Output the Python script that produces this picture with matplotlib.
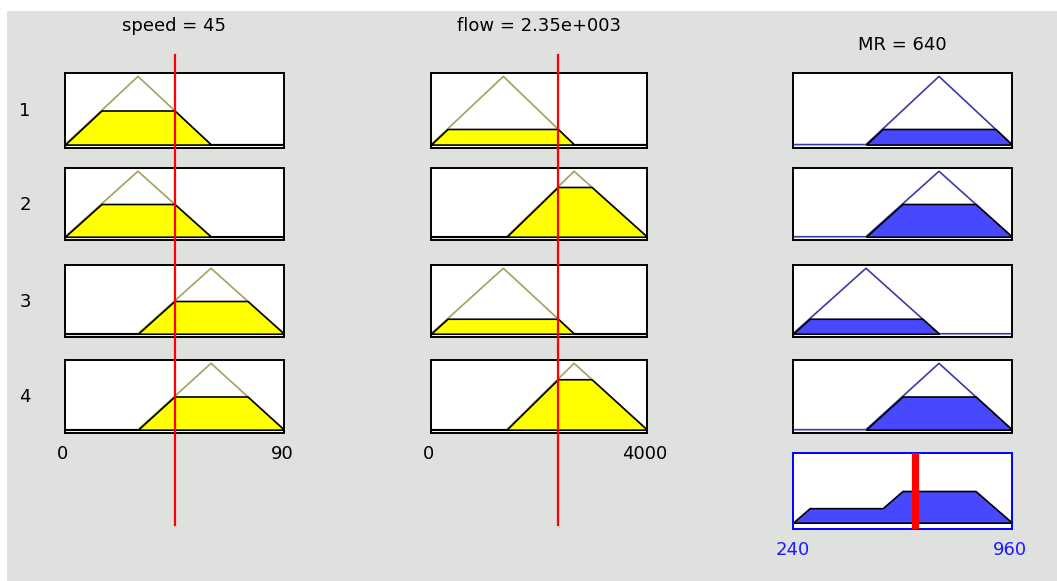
import numpy as np
import matplotlib
matplotlib.use("Agg")
import matplotlib.pyplot as plt
from matplotlib.lines import Line2D
from matplotlib.patches import Rectangle
from matplotlib import transforms

W, H = 1057, 581

# fuzzy system: two inputs, one output, four rules
in_names = ["speed", "flow"]
in_values = [45, 2350]
in_titles = ["speed = 45", "flow = 2.35e+003"]
in_ranges = [(0, 90), (0, 4000)]
in_ticks = [["0", "90"], ["0", "4000"]]
speed_mfs = [[0, 30, 60], [0, 30, 60], [30, 60, 90], [30, 60, 90]]
flow_mfs = [[0, 1340, 2650], [1400, 2650, 4000], [0, 1340, 2650], [1400, 2650, 4000]]
in_mfs = [speed_mfs, flow_mfs]

out_title = "MR = 640"
out_value = 640
out_range = (240, 960)
out_ticks = ["240", "960"]
mr_mfs = [[480, 720, 960], [480, 720, 960], [240, 480, 720], [480, 720, 960]]
rule_labels = ["1", "2", "3", "4"]

# pixel layout
col_x = [(65, 284), (431, 647), (793, 1012)]
row_y = [(73, 148), (168, 240), (265, 337), (360, 433)]
agg_y = (453, 529)

bg = "#dfe1de"
olive = "#a3a15c"
yellow = "#ffff00"
navy = "#3a3aa8"
blue_fill = "#4848ff"


def px_box(x0, x1, y0, y1):
    return [x0 / W, 1 - y1 / H, (x1 - x0) / W, (y1 - y0) / H]


def trimf(x, p):
    a, b, c = p
    return np.interp(x, [a, b, c], [0, 1, 0], left=0, right=0)


def style_axes(ax, color="black"):
    ax.set_facecolor("white")
    ax.set_xticks([])
    ax.set_yticks([])
    for s in ax.spines.values():
        s.set_color(color)
        s.set_linewidth(1.4)


plt.rcParams["font.family"] = ["DejaVu Sans"]
fig = plt.figure(figsize=(W / 100, H / 100), dpi=100, facecolor="white")
fig.patches.append(Rectangle((7 / W, 0), 1, 1 - 11 / H, transform=fig.transFigure,
                             facecolor=bg, edgecolor="none", zorder=-10))

# rule strengths (min of input memberships)
degrees = []
for i in range(2):
    degrees.append([float(trimf(in_values[i], p)) for p in in_mfs[i]])
strengths = [min(degrees[0][r], degrees[1][r]) for r in range(4)]

# inputs
for i in range(2):
    lo, hi = in_ranges[i]
    x = np.linspace(lo, hi, 901)
    top_ax = None
    for r in range(4):
        ax = fig.add_axes(px_box(*col_x[i], *row_y[r]))
        style_axes(ax)
        mu = trimf(x, in_mfs[i][r])
        cut = np.minimum(mu, degrees[i][r])
        ax.plot(x, mu, color=olive, lw=1.2, zorder=2)
        ax.fill_between(x, 0, cut, facecolor=yellow, edgecolor="black", lw=1.2, zorder=3)
        ax.set_xlim(lo, hi)
        ax.set_ylim(-0.05, 1.05)
        if r == 0:
            top_ax = ax
    # red input line through all rows
    tr = transforms.blended_transform_factory(top_ax.transData, fig.transFigure)
    fig.add_artist(Line2D([in_values[i]] * 2, [1 - 55 / H, 1 - 525 / H], transform=tr,
                          color="red", lw=1.6, zorder=5))
    cx = (col_x[i][0] + col_x[i][1]) / 2
    fig.text(cx / W, 1 - 26 / H, in_titles[i], ha="center", va="center", fontsize=13)
    fig.text((col_x[i][0] - 2) / W, 1 - 454 / H, in_ticks[i][0], ha="center", va="center", fontsize=13)
    fig.text((col_x[i][1] - 2) / W, 1 - 454 / H, in_ticks[i][1], ha="center", va="center", fontsize=13)

# outputs
lo, hi = out_range
x = np.linspace(lo, hi, 721)
agg = np.zeros_like(x)
for r in range(4):
    ax = fig.add_axes(px_box(*col_x[2], *row_y[r]))
    style_axes(ax)
    mu = trimf(x, mr_mfs[r])
    cut = np.minimum(mu, strengths[r])
    agg = np.maximum(agg, cut)
    ax.plot(x, mu, color=navy, lw=1.2, zorder=2)
    ax.fill_between(x, 0, cut, where=mu > 0, facecolor=blue_fill, edgecolor="black",
                    lw=1.2, zorder=3)
    ax.set_xlim(lo, hi)
    ax.set_ylim(-0.05, 1.05)

ax = fig.add_axes(px_box(*col_x[2], *agg_y))
style_axes(ax, color="blue")
ax.fill_between(x, 0, agg, facecolor=blue_fill, edgecolor="black", lw=1.2, zorder=2)
ax.axvline(out_value, color="red", lw=5.2, zorder=4)
ax.set_xlim(lo, hi)
ax.set_ylim(-0.1, 1.1)

cx = (col_x[2][0] + col_x[2][1]) / 2
fig.text(cx / W, 1 - 45 / H, out_title, ha="center", va="center", fontsize=13)
fig.text(793 / W, 1 - 550 / H, out_ticks[0], ha="center", va="center", fontsize=13, color="#1a1aff")
fig.text(1010 / W, 1 - 550 / H, out_ticks[1], ha="center", va="center", fontsize=13, color="#1a1aff")

for r, lab in enumerate(rule_labels):
    yc = (row_y[r][0] + row_y[r][1]) / 2 + 1
    fig.text(25 / W, 1 - yc / H, lab, ha="center", va="center", fontsize=13)

fig.savefig("out.png", dpi=100, facecolor="white")
